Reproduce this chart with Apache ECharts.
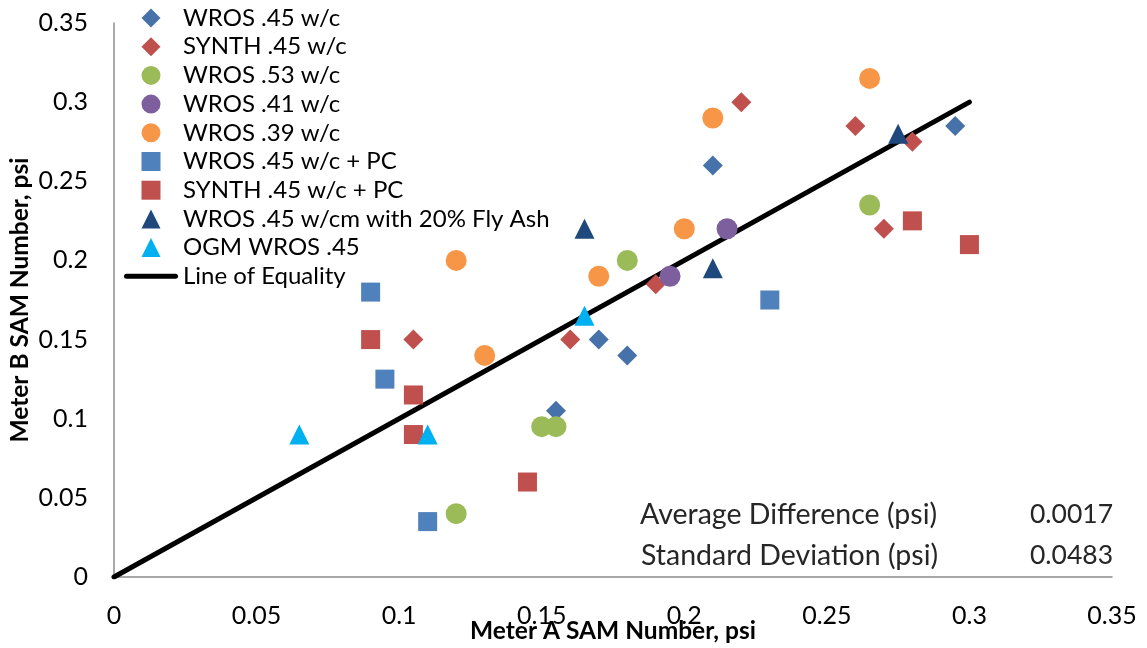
<!DOCTYPE html>
<html>
<head>
<meta charset="utf-8">
<script src="https://cdn.jsdelivr.net/npm/echarts@6/dist/echarts.min.js"></script>
<style>
  html, body { margin: 0; padding: 0; background: #fff; }
  #chart { width: 1147px; height: 648px; }
</style>
</head>
<body>
<div id="chart"></div>
<script>
// Meter A vs Meter B SAM numbers, [meterA, meterB] in psi
const wros45 = [[0.21, 0.26], [0.295, 0.285], [0.17, 0.15], [0.18, 0.14], [0.155, 0.105]];
const synth45 = [[0.22, 0.30], [0.26, 0.285], [0.28, 0.275], [0.27, 0.22], [0.19, 0.185], [0.16, 0.15], [0.105, 0.15]];
const wros53 = [[0.265, 0.235], [0.18, 0.20], [0.15, 0.095], [0.155, 0.095], [0.12, 0.04]];
const wros41 = [[0.215, 0.22], [0.195, 0.19]];
const wros39 = [[0.265, 0.315], [0.21, 0.29], [0.20, 0.22], [0.17, 0.19], [0.12, 0.20], [0.13, 0.14]];
const wros45pc = [[0.09, 0.18], [0.095, 0.125], [0.11, 0.035], [0.23, 0.175]];
const synth45pc = [[0.09, 0.15], [0.105, 0.115], [0.105, 0.09], [0.145, 0.06], [0.28, 0.225], [0.30, 0.21]];
const wrosFlyAsh = [[0.165, 0.22], [0.21, 0.195], [0.275, 0.28]];
const ogmWros45 = [[0.065, 0.09], [0.11, 0.09], [0.165, 0.165]];
const equalityLine = [[0, 0], [0.3, 0.3]];

const seriesNames = [
  'WROS .45 w/c', 'SYNTH .45 w/c', 'WROS .53 w/c', 'WROS .41 w/c', 'WROS .39 w/c',
  'WROS .45 w/c + PC', 'SYNTH .45 w/c + PC', 'WROS .45 w/cm with 20% Fly Ash', 'OGM WROS .45',
  'Line of Equality'
];
const statLabels = ['Average Difference (psi)', 'Standard Deviation (psi)'];
const statValues = ['0.0017', '0.0483'];

const FONT = 'Lato, "Open Sans", sans-serif';

// Legend icons as paths so they keep their aspect inside a wide legend slot
const ICON = {
  diamond: 'path://M0,-1L1,0L0,1L-1,0Z',
  circle: 'path://M1,0A1,1,0,1,1,-1,0A1,1,0,1,1,1,0Z',
  square: 'path://M-1,-1H1V1H-1Z',
  triangle: 'path://M0,-1L1,1H-1Z',
  bar: 'path://M2.5,0H51.5A2.5,2.5,0,0,1,51.5,5H2.5A2.5,2.5,0,0,1,2.5,0Z'
};

function scatter(name, data, symbol, size, color) {
  return {
    name: name, type: 'scatter', data: data, symbol: symbol, symbolSize: size,
    itemStyle: { color: color, opacity: 1 },
    emphasis: { disabled: true }, z: 3
  };
}

const legendIcons = ['diamond', 'diamond', 'circle', 'circle', 'circle', 'square', 'square', 'triangle', 'triangle', 'bar'];

const chart = echarts.init(document.getElementById('chart'), null, { renderer: 'canvas' });

const option = {
  animation: false,
  backgroundColor: '#ffffff',
  textStyle: { fontFamily: FONT },
  grid: { left: 114, right: 35, top: 23, bottom: 71, containLabel: false, outerBoundsMode: 'none' },
  xAxis: {
    type: 'value', min: 0, max: 0.35, interval: 0.05,
    name: 'Meter A SAM Number, psi', nameLocation: 'middle', nameGap: 42, nameMoveOverlap: false,
    nameTextStyle: { fontFamily: FONT, fontWeight: 'bold', fontSize: 24.5, color: '#000' },
    axisLine: { show: true, onZero: false, lineStyle: { color: '#8c8c8c', width: 1.5 } },
    axisTick: { show: false },
    splitLine: { show: false },
    axisLabel: { fontFamily: FONT, fontSize: 25, color: '#000', margin: 26 }
  },
  yAxis: {
    type: 'value', min: 0, max: 0.35, interval: 0.05,
    name: 'Meter B SAM Number, psi', nameLocation: 'middle', nameGap: 81, nameMoveOverlap: false,
    nameTextStyle: { fontFamily: FONT, fontWeight: 'bold', fontSize: 24.5, color: '#000' },
    axisLine: { show: true, onZero: false, lineStyle: { color: '#8c8c8c', width: 1.5 } },
    axisTick: { show: false },
    splitLine: { show: false },
    axisLabel: { fontFamily: FONT, fontSize: 25, color: '#000', margin: 26 }
  },
  legend: {
    orient: 'vertical', left: 124, top: 6, padding: 0,
    itemWidth: 54, itemHeight: 19, itemGap: 4.7,
    symbolKeepAspect: true,
    data: seriesNames.map((n, i) => ({ name: n, icon: ICON[legendIcons[i]] })),
    textStyle: { fontFamily: FONT, fontSize: 24, color: '#000', lineHeight: 24 },
    selectedMode: false
  },
  series: [
    scatter(seriesNames[0], wros45, 'diamond', 20, '#4672a9'),
    scatter(seriesNames[1], synth45, 'diamond', 20, '#c0504d'),
    scatter(seriesNames[2], wros53, 'circle', 21, '#9bbb59'),
    scatter(seriesNames[3], wros41, 'circle', 21, '#7d5f9e'),
    scatter(seriesNames[4], wros39, 'circle', 21, '#f79646'),
    scatter(seriesNames[5], wros45pc, 'rect', 19, '#4f81bd'),
    scatter(seriesNames[6], synth45pc, 'rect', 19, '#c0504d'),
    scatter(seriesNames[7], wrosFlyAsh, 'triangle', 20, '#1f497d'),
    scatter(seriesNames[8], ogmWros45, 'triangle', 20, '#00b0f0'),
    {
      name: seriesNames[9], type: 'line', data: equalityLine,
      symbol: 'none', z: 2,
      lineStyle: { color: '#000', width: 5, cap: 'round' },
      itemStyle: { color: '#000' },
      emphasis: { disabled: true }
    }
  ],
  graphic: [
    { type: 'text', left: 640, top: 500, style: { text: statLabels[0], font: '28.5px ' + FONT, fill: '#262626' } },
    { type: 'text', left: 641, top: 541, style: { text: statLabels[1], font: '28.5px ' + FONT, fill: '#262626' } },
    { type: 'text', right: 34, top: 501, style: { text: statValues[0], font: '26.5px ' + FONT, fill: '#262626', align: 'right' } },
    { type: 'text', right: 34, top: 542, style: { text: statValues[1], font: '26.5px ' + FONT, fill: '#262626', align: 'right' } }
  ]
};

chart.setOption(option);
</script>
</body>
</html>
